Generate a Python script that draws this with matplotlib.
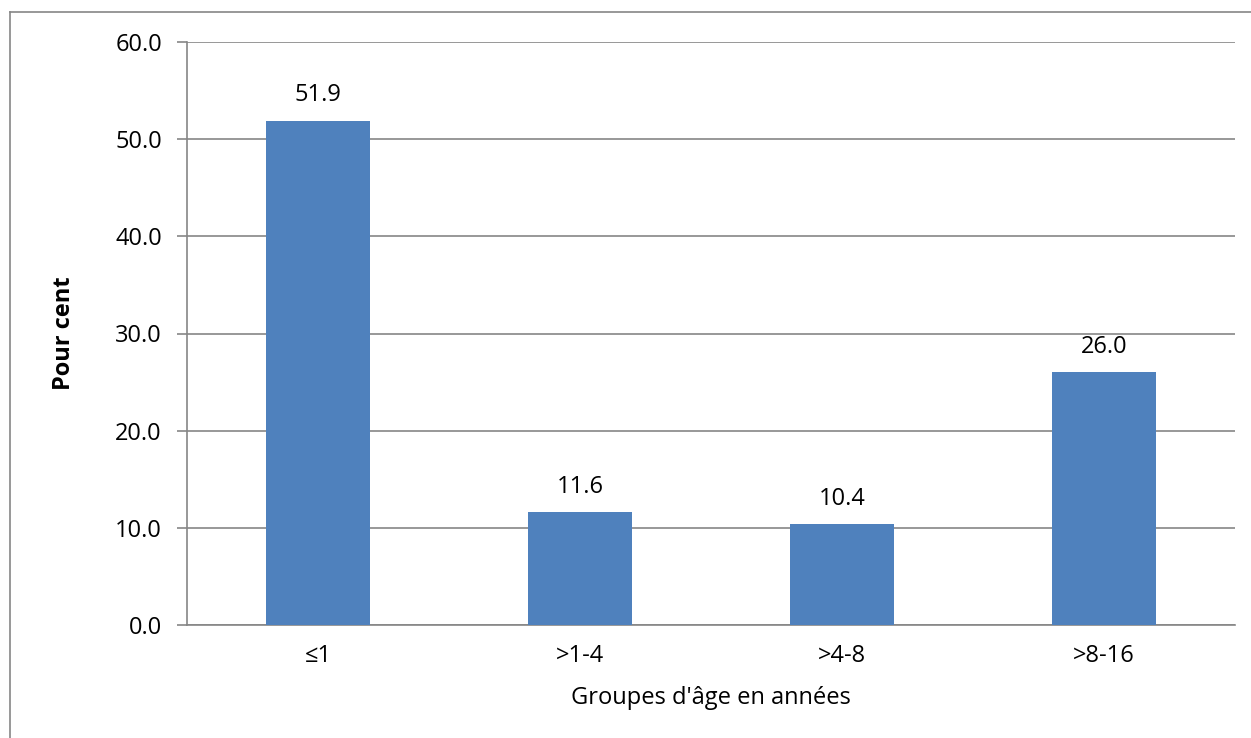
import matplotlib
matplotlib.use("Agg")
import matplotlib.pyplot as plt
from matplotlib.lines import Line2D

# donnees
groupes = ["≤1", ">1-4", ">4-8", ">8-16"]
pour_cent = [51.9, 11.6, 10.4, 26.0]
yticks = [0, 10, 20, 30, 40, 50, 60]

plt.rcParams['font.family'] = ['Open Sans', 'DejaVu Sans']
fs = 17

fig = plt.figure(figsize=(12.51, 7.38), dpi=100)
ax = fig.add_axes([187/1251, 113/738, (1235-187)/1251, (625-42)/738])

x = range(len(groupes))
ax.bar(x, pour_cent, width=0.4, color='#4F81BD', zorder=3)
for i, v in zip(x, pour_cent):
    ax.annotate("%.1f" % v, (i, v), xytext=(0, 14), textcoords='offset points',
                ha='center', va='baseline', fontsize=fs, color='black')

ax.set_xlim(-0.5, len(groupes) - 0.5)
ax.set_ylim(0, 60)
ax.set_yticks(yticks)
ax.set_yticklabels(["%.1f" % t for t in yticks], fontsize=fs)
ax.set_xticks(list(x))
ax.set_xticklabels(groupes, fontsize=fs)
ax.tick_params(axis='x', length=0, pad=14)
ax.tick_params(axis='y', length=7, width=1.2, color='#868686', pad=11)
ax.yaxis.grid(True, color='#868686', linewidth=1.2, zorder=0)

for s in ['top', 'right']:
    ax.spines[s].set_visible(False)
ax.spines['left'].set_color('#868686')
ax.spines['bottom'].set_color('#868686')
ax.spines['left'].set_linewidth(1.2)
ax.spines['bottom'].set_linewidth(1.2)

ax.set_ylabel("Pour cent", fontsize=fs, fontweight='bold', labelpad=28)
ax.set_xlabel("Groupes d'âge en années", fontsize=fs, labelpad=13)

# cadre du graphique
fig.add_artist(Line2D([10/1251, 10/1251], [0, 1 - 12/738], color='#868686', lw=1.2))
fig.add_artist(Line2D([10/1251, 1], [1 - 12/738, 1 - 12/738], color='#868686', lw=1.2))

fig.savefig("out.png", dpi=100)
